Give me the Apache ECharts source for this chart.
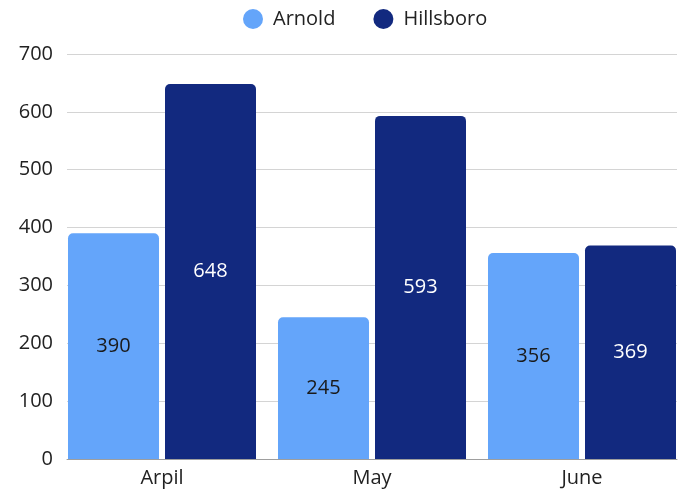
<!DOCTYPE html>
<html>
<head>
<meta charset="utf-8">
<script src="https://cdn.jsdelivr.net/npm/echarts@6/dist/echarts.min.js"></script>
<style>
  html, body { margin: 0; padding: 0; background: #fff; }
  #main { width: 681px; height: 491px; }
</style>
</head>
<body>
<div id="main"></div>
<script>
const months = ["Arpil", "May", "June"];
const arnold = [390, 245, 356];
const hillsboro = [648, 593, 369];
const yTicks = [0, 100, 200, 300, 400, 500, 600, 700];

const font = "Open Sans";
const chart = echarts.init(document.getElementById("main"));

chart.setOption({
  animation: false,
  textStyle: { fontFamily: font },
  legend: {
    top: 4,
    left: 238,
    icon: "circle",
    itemWidth: 20,
    itemHeight: 20,
    itemGap: 38,
    textStyle: { fontSize: 20, color: "#222", fontFamily: font, padding: [0, 0, 0, 5] },
    data: ["Arnold", "Hillsboro"],
  },
  // grid 0: gridlines + y labels, grid 1: the bars (a bit wider than the gridlines)
  grid: [
    { left: 67, right: 4, top: 54, bottom: 32 },
    { left: 57, width: 630, top: 54, bottom: 32, outerBoundsMode: "none" },
  ],
  xAxis: [
    {
      gridIndex: 0,
      type: "category",
      data: months,
      axisLine: { lineStyle: { color: "#9e9e9e", width: 1 } },
      axisTick: { show: false },
      axisLabel: { show: false },
    },
    {
      gridIndex: 1,
      type: "category",
      data: months,
      axisLine: { show: false },
      axisTick: { show: false },
      axisLabel: { fontSize: 20, color: "#222", margin: 9, fontFamily: font },
    },
  ],
  yAxis: [
    {
      gridIndex: 0,
      type: "value",
      min: yTicks[0],
      max: yTicks[yTicks.length - 1],
      interval: 100,
      axisLine: { show: false },
      axisTick: { show: false },
      axisLabel: { fontSize: 20, color: "#222", margin: 14, fontFamily: font },
      splitLine: { lineStyle: { color: "#d4d4d4", width: 1 } },
    },
    {
      gridIndex: 1,
      type: "value",
      min: yTicks[0],
      max: yTicks[yTicks.length - 1],
      interval: 100,
      show: false,
    },
  ],
  series: [
    {
      name: "Arnold",
      type: "bar",
      xAxisIndex: 1,
      yAxisIndex: 1,
      data: arnold,
      barWidth: 91,
      barGap: "6.6%",
      itemStyle: { color: "#64a5fa", borderRadius: [5, 5, 0, 0] },
      label: {
        show: true,
        position: "inside",
        fontSize: 20,
        color: "#1a1a1a",
        fontFamily: font,
      },
    },
    {
      name: "Hillsboro",
      type: "bar",
      xAxisIndex: 1,
      yAxisIndex: 1,
      data: hillsboro,
      barWidth: 91,
      barGap: "6.6%",
      itemStyle: { color: "#12297f", borderRadius: [5, 5, 0, 0] },
      label: {
        show: true,
        position: "inside",
        fontSize: 20,
        color: "#ffffff",
        fontFamily: font,
      },
    },
  ],
});
</script>
</body>
</html>
